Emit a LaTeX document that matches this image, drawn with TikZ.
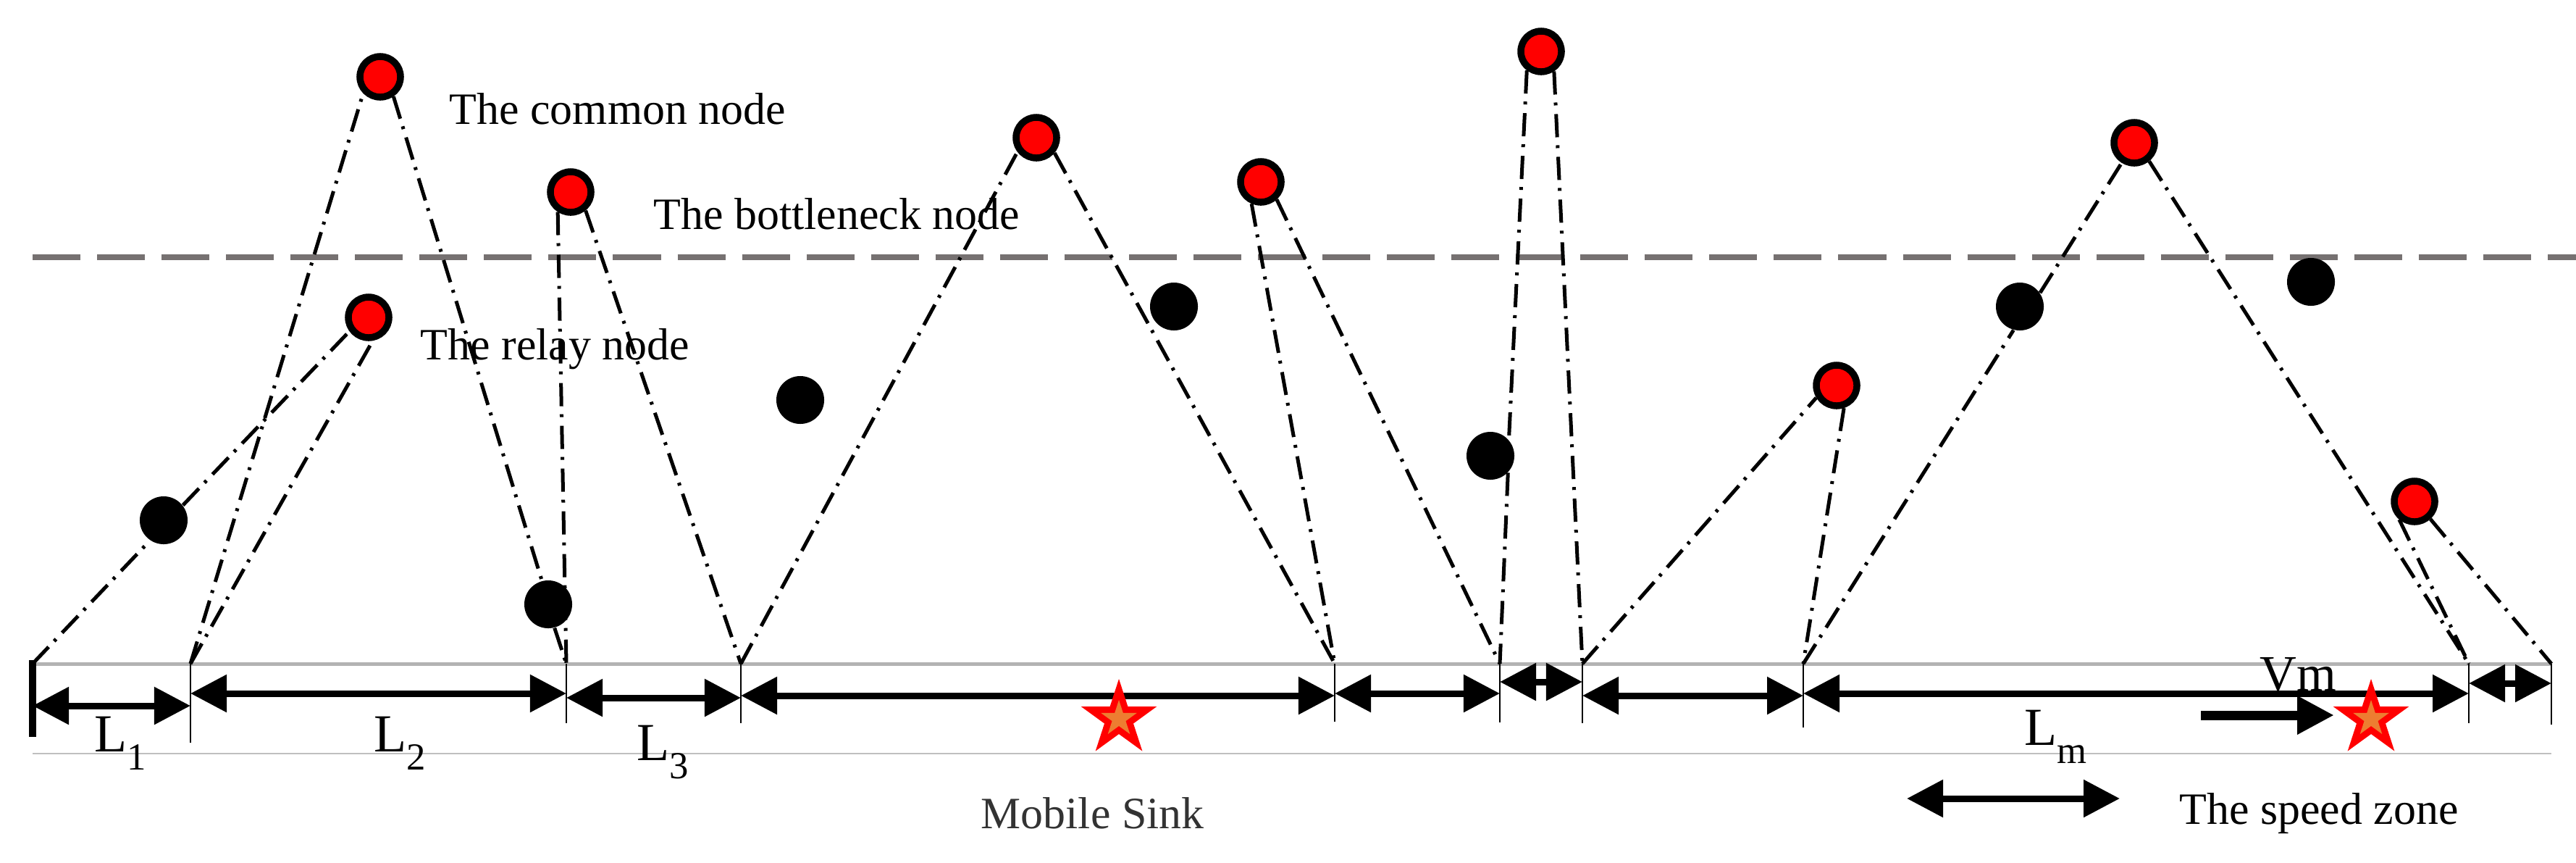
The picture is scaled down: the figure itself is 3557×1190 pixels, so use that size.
\documentclass[tikz,border=0pt]{standalone}
\usepackage{fontspec}
\setmainfont{Liberation Serif}
\usetikzlibrary{arrows.meta,positioning,shapes.geometric,calc}
\definecolor{sinkred}{HTML}{FF0000}
\definecolor{sinkcore}{HTML}{ED7D31}
\definecolor{bneck}{HTML}{767171}
\definecolor{track}{HTML}{B3B3B3}
\definecolor{rule}{HTML}{BFBFBF}
\tikzset{
  rednode/.style={circle, draw=black, fill=red, line width=0.095cm, minimum size=0.56cm, inner sep=0pt},
  blknode/.style={circle, fill=black, minimum size=0.66cm, inner sep=0pt},
  hop/.style={line width=0.05cm, dash pattern=on 0.32cm off 0.11cm on 0.04cm off 0.12cm},
  seg/.style={{Triangle[length=0.5cm,width=0.5cm]}-{Triangle[length=0.5cm,width=0.5cm]}, line width=0.09cm},
  move/.style={-{Triangle[length=0.51cm,width=0.5cm]}, line width=0.13cm},
  segtick/.style={line width=0.017cm},
  sink/.style={star, star points=5, star point ratio=2.618, inner sep=0pt, minimum size=1.1cm, fill=sinkred},
  sinkin/.style={sink, minimum size=0.52cm, fill=sinkcore},
  lbl/.style={inner sep=0pt, anchor=base west, font=\fontsize{17.6}{20}\selectfont},
  lenlbl/.style={inner sep=0pt, anchor=base west, font=\fontsize{21}{24}\selectfont},
}
\newcommand{\seglen}[1]{L\raisebox{-0.25cm}{\fontsize{15}{16}\selectfont #1}}

\begin{document}
\begin{tikzpicture}[x=0.01cm, y=-0.01cm]
  \useasboundingbox (0,0) rectangle (3557,1190);

  % track and segment ends
  \coordinate (p0) at (45,916);
  \coordinate (p1) at (263,916);
  \coordinate (p2) at (782,916);
  \coordinate (p3) at (1023,916);
  \coordinate (p4) at (1843,916);
  \coordinate (p5) at (2071,916);
  \coordinate (p6) at (2185,916);
  \coordinate (p7) at (2490,916);
  \coordinate (p8) at (3409,916);
  \coordinate (p9) at (3523,916);

  \draw[bneck, line width=0.08cm, dash pattern=on 0.66cm off 0.23cm] (45,355) -- (3557,355);
  \draw[track, line width=0.05cm] (p0) -- (p9);
  \draw[rule, line width=0.02cm] ($(p0)+(0,124)$) -- ($(p9)+(0,124)$);
  \draw[line width=0.09cm] ($(p0)+(0,-5)$) -- ($(p0)+(0,101)$);
  \foreach \p/\len in {p1/109, p2/82, p3/82, p4/80, p5/81, p6/82, p7/88, p8/82, p9/84}
    \draw[segtick] (\p) -- ++(0,\len);

  % sensor nodes
  \node[rednode] (n1) at (525,106) {};
  \node[rednode] (n2) at (788,265) {};
  \node[rednode] (n3) at (509,438) {};
  \node[rednode] (n4) at (1431,190) {};
  \node[rednode] (n5) at (1741,251) {};
  \node[rednode] (n6) at (2128,71) {};
  \node[rednode] (n7) at (2536,532) {};
  \node[rednode] (n8) at (2947,197) {};
  \node[rednode] (n9) at (3334,692) {};
  \node[blknode] (b1) at (226,718) {};
  \node[blknode] (b2) at (757,834) {};
  \node[blknode] (b3) at (1105,552) {};
  \node[blknode] (b4) at (1621,423) {};
  \node[blknode] (b5) at (2058,629) {};
  \node[blknode] (b6) at (2789,423) {};
  \node[blknode] (b7) at (3191,389) {};

  % hops down to the track
  \draw[hop] (p0) -- (b1.236);
  \draw[hop] (b1.38) -- (n3.216);
  \draw[hop] (p1) -- (n3.280);
  \draw[hop] (p1) -- (n1.224);
  \draw[hop] (n1.304) -- (b2.105);
  \draw[hop] (b2.285) -- (p2);
  \draw[hop] (n2.237) -- (p2);
  \draw[hop] (n2.309) -- (p3);
  \draw[hop] (p3) -- (n4.217);
  \draw[hop] (n4.320) -- (p4);
  \draw[hop] (n5.247) -- (p4);
  \draw[hop] (n5.312) -- (p5);
  \draw[hop] (n6.233) -- (b5.41);
  \draw[hop] (b5.316) -- (p5);
  \draw[hop] (n6.303) -- (p6);
  \draw[hop] (p6) -- (n7.211);
  \draw[hop] (n7.288) -- (p7);
  \draw[hop] (p7) -- (b6.255);
  \draw[hop] (b6.34) -- (n8.238);
  \draw[hop] (n8.309) -- (p8);
  \draw[hop] (n9.230) -- (p8);
  \draw[hop] (n9.312) -- (p9);

  % segment lengths
  \foreach \a/\b/\dy in {p0/p1/58, p1/p2/41, p2/p3/47, p3/p4/44, p4/p5/41, p5/p6/25, p6/p7/44, p7/p8/41, p8/p9/27}
    \draw[seg] ($(\a)+(0,\dy)$) -- ($(\b)+(0,\dy)$);
  \node[lenlbl] (l1) at (130,1037) {\seglen{1}};
  \node[lenlbl] (l2) at (516,1037) {\seglen{2}};
  \node[lenlbl] (l3) at (879,1049) {\seglen{3}};
  \node[lenlbl] (lm) at (2795,1028) {\seglen{m}};

  % mobile sink
  \node[sink] (sink1) at (1545,992) {};
  \node[sinkin] (sink1c) at (sink1) {};
  \node[sink] (sink2) at (3274,992) {};
  \node[sinkin] (sink2c) at (sink2) {};
  \coordinate (vmtail) at (3039,987);
  \coordinate (vmtip) at (3223,987);
  \draw[move] (vmtail) -- (vmtip);
  \node[inner sep=0pt, anchor=base west, font=\fontsize{20}{22}\selectfont] (vm) at (3120,953) {Vm};
  \coordinate (zonel) at (2633,1102);
  \coordinate (zoner) at (2927,1102);
  \draw[seg] (zonel) -- (zoner);

  % labels
  \node[lbl] (common) at (620,171) {The common node};
  \node[lbl] (bottle) at (902,316) {The bottleneck node};
  \node[lbl] (relay) at (580,496) {The relay node};
  \node[lbl, text=black!80] (msink) at (1354,1143) {Mobile Sink};
  \node[lbl] (zone) at (3009,1137) {The speed zone};
\end{tikzpicture}
\end{document}
